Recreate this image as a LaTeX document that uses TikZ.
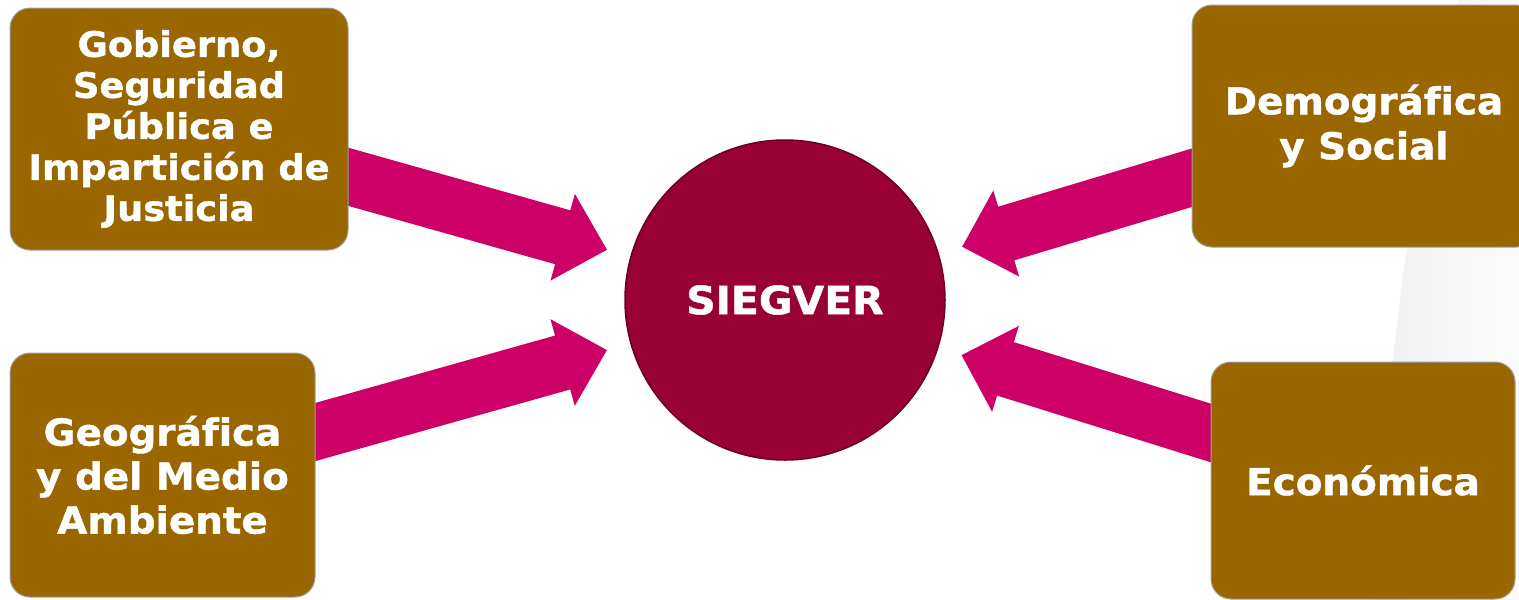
\documentclass[tikz,border=0pt]{standalone}
\usepackage{fontspec}
\setmainfont{DejaVu Sans}[FakeStretch=1.05,Ligatures=NoCommon,BoldFeatures={FakeBold=1.2}]
\usepackage{tikz}
\usetikzlibrary{calc,backgrounds}
\definecolor{cafe}{RGB}{153,102,0}
\definecolor{rosa}{RGB}{204,0,102}
\definecolor{vino}{RGB}{153,0,51}

\newcommand{\flecha}[2]{%
 \coordinate (p) at ($(#2.center)!185pt!(#1.center)$);
 \coordinate (h) at ($(p)!46pt!(#1.center)$);
 \fill[color=rosa] ($(#1.center)!28pt!90:(p)$) -- ($(h)!28pt!-90:(#1.center)$) -- ($(h)!45pt!-90:(#1.center)$) -- (p) -- ($(h)!45pt!90:(#1.center)$) -- ($(h)!28pt!90:(#1.center)$) -- ($(#1.center)!28pt!-90:(p)$) -- cycle;}

\begin{document}
\begin{tikzpicture}[x=1pt,y=-1pt,
 cuadro/.style={rectangle, rounded corners=20pt, fill=cafe, draw=gray!75, line width=1pt, inner sep=0pt, align=center, text=white},
 circulo/.style={circle, fill=vino, draw=vino!70!black, line width=1.5pt, minimum size=320pt, inner sep=0pt, text=white}]
\useasboundingbox (0,0) rectangle (1519,600);

\node[cuadro, minimum width=338pt, minimum height=242pt, font=\fontsize{35}{41}\selectfont\bfseries] (gob) at (179,129) {Gobierno,\\Seguridad\\Pública e\\Impartición de\\Justicia};
\node[cuadro, minimum width=305pt, minimum height=244pt, font=\fontsize{37}{44}\selectfont\bfseries] (geo) at (162.5,475) {Geográfica\\y del Medio\\Ambiente};
\node[cuadro, minimum width=344pt, minimum height=242pt, font=\fontsize{37}{45}\selectfont\bfseries] (dem) at (1364,126) {Demográfica\\y Social};
\node[cuadro, minimum width=304pt, minimum height=237pt, font=\fontsize{37}{45}\selectfont\bfseries] (eco) at (1363,480.5) {Económica};
\node[circulo, font=\fontsize{39}{46}\selectfont\bfseries] (sieg) at (785,300) {SIEGVER};

\begin{scope}[on background layer]
 \shade[left color=gray!12, right color=gray!3] (1458,0) -- (1519,0) -- (1519,600) -- (1372,600) -- (1393,360) .. controls (1405,250) .. (1458,0) -- cycle;
 \flecha{gob}{sieg}
 \flecha{geo}{sieg}
 \flecha{dem}{sieg}
 \flecha{eco}{sieg}
\end{scope}
\end{tikzpicture}
\end{document}
